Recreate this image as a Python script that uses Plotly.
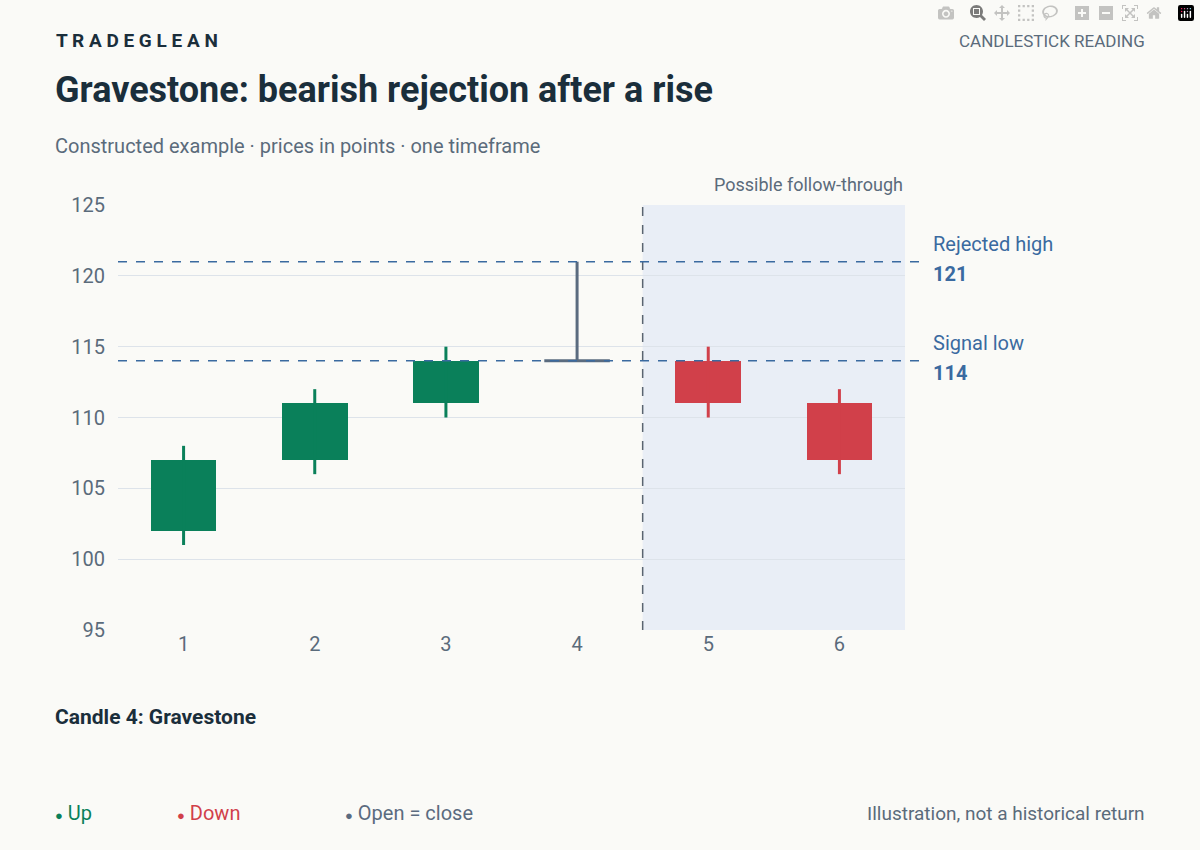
import plotly.graph_objects as go

candles = [1, 2, 3, 4, 5, 6]
opens = [102, 107, 111, 114, 114, 111]
highs = [108, 112, 115, 121, 115, 112]
lows = [101, 106, 110, 114, 110, 106]
closes = [107, 111, 114, 114, 111, 107]
tick_vals = [95, 100, 105, 110, 115, 120, 125]
levels = [121, 114]
level_names = ["Rejected high", "Signal low"]

UP, DOWN, FLAT = "#0a805a", "#d1404a", "#5a6b7f"
TXT, MUTED = "#1a2e3b", "#5a6b7b"
BLUE = "#3a6aa0"
BW = 0.5

fig = go.Figure()
fig.add_vrect(x0=4.5, x1=6.5, fillcolor="#e9eef6", line_width=0, layer="below")

def col(o, c):
    return UP if c > o else (DOWN if c < o else FLAT)

for x, o, h, l, c in zip(candles, opens, highs, lows, closes):
    cc = col(o, c)
    fig.add_trace(go.Scatter(x=[x, x], y=[l, h], mode="lines",
                             line=dict(color=cc, width=3), hoverinfo="skip", showlegend=False))
    if o != c:
        fig.add_trace(go.Bar(x=[x], y=[abs(c - o)], base=[min(o, c)], width=BW,
                             marker=dict(color=cc, line_width=0), showlegend=False))
    else:
        fig.add_trace(go.Scatter(x=[x - BW / 2, x + BW / 2], y=[o, o], mode="lines",
                                 line=dict(color=cc, width=3), showlegend=False))

fig.add_vline(x=4.5, line=dict(color="#5a6470", width=1.5, dash="dash"))
for lv, name in zip(levels, level_names):
    fig.add_shape(type="line", xref="paper", x0=0, x1=1.02, y0=lv, y1=lv,
                  line=dict(color=BLUE, width=1.5, dash="dash"))
    fig.add_annotation(xref="paper", x=1.033, y=lv, yshift=4, text=name, showarrow=False,
                       xanchor="left", yanchor="bottom", font=dict(size=20, color=BLUE))
    fig.add_annotation(xref="paper", x=1.033, y=lv, yshift=2, text=f"<b>{lv}</b>", showarrow=False,
                       xanchor="left", yanchor="top", font=dict(size=20, color=BLUE))

fig.add_annotation(xref="paper", yref="paper", x=1, y=1.02, text="Possible follow-through",
                   showarrow=False, xanchor="right", yanchor="bottom", font=dict(size=18, color=MUTED))

def ptext(x, y, text, size, color, xanchor="left", bold=False):
    fig.add_annotation(xref="paper", yref="paper", x=x, y=y, text=f"<b>{text}</b>" if bold else text,
                       showarrow=False, xanchor=xanchor, yanchor="middle", font=dict(size=size, color=color))

def px(xp): return (xp - 118) / 787
def py(yp): return (630 - yp) / 425

def dot(c):
    return f"<span style='font-size:13px;color:{c}'>●</span>"

ptext(px(54), py(40), "T R A D E G L E A N", 19, TXT, bold=True)
ptext(px(1147), py(41), "CANDLESTICK READING", 17, MUTED, xanchor="right")
ptext(px(53), py(90), "Gravestone: bearish rejection after a rise", 36, TXT, bold=True)
ptext(px(53), py(146), "Constructed example · prices in points · one timeframe", 20, MUTED)
ptext(px(53), py(717), "Candle 4: Gravestone", 21, TXT, bold=True)
ptext(px(53), py(813), f"{dot(UP)} Up", 20, UP)
ptext(px(175), py(813), f"{dot(DOWN)} Down", 20, DOWN)
ptext(px(343), py(813), f"{dot(FLAT)} Open = close", 20, FLAT)
ptext(px(1147), py(813), "Illustration, not a historical return", 19, MUTED, xanchor="right")

fig.update_layout(
    width=1200, height=850, margin=dict(l=118, r=295, t=205, b=220),
    paper_bgcolor="#fafaf7", plot_bgcolor="#fafaf7",
    font=dict(family="Roboto, 'Liberation Sans', sans-serif", color=MUTED), bargap=0,
    xaxis=dict(range=[0.5, 6.5], tickvals=candles, showgrid=False, zeroline=False,
               tickfont=dict(size=20, color=MUTED), ticks="", showline=False),
    yaxis=dict(range=[95, 125], tickvals=tick_vals, gridcolor="#dde3ea", zeroline=False,
               tickfont=dict(size=20, color=MUTED), ticks="", ticklabelstandoff=12),
)
fig.write_html("out.html", post_script="document.body.style.margin='0';")
